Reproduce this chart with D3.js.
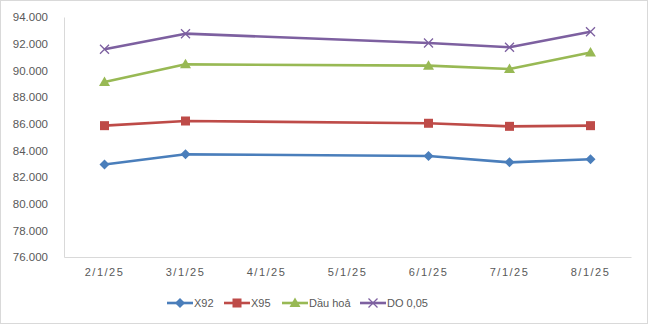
<!DOCTYPE html>
<html>
<head>
<meta charset="utf-8">
<script src="https://cdn.jsdelivr.net/npm/d3@7"></script>
<style>
  html, body { margin: 0; padding: 0; background: #fff; }
  svg { display: block; }
  text { font-family: "Liberation Sans", "DejaVu Sans", sans-serif; fill: #595959; }
</style>
</head>
<body>
<svg id="chart" width="650" height="326"></svg>
<script>
// Day labels on the category axis (every day of the period is shown)
const days = ["2/1/25", "3/1/25", "4/1/25", "5/1/25", "6/1/25", "7/1/25", "8/1/25"];
// Days that actually carry a price
const priceDays = ["2/1/25", "3/1/25", "6/1/25", "7/1/25", "8/1/25"];

// Prices (đồng/lít)
const x92 = [82940, 83700, 83580, 83100, 83330];
const x95 = [85850, 86200, 86030, 85800, 85850];
const dauHoa = [89130, 90450, 90350, 90100, 91330];
const do005 = [91580, 92750, 92050, 91730, 92900];

const yTicks = [76000, 78000, 80000, 82000, 84000, 86000, 88000, 90000, 92000, 94000];

const seriesNames = ["X92", "X95", "Dầu hoả", "DO 0,05"];
const seriesColors = ["#4A7EBB", "#BE4B48", "#98B954", "#7D60A0"];
const seriesMarkers = ["diamond", "square", "triangle", "cross"];
const seriesValues = [x92, x95, dauHoa, do005];

const svg = d3.select("#chart");
const W = 650, H = 326;
const plot = { left: 64, right: 631, top: 17, bottom: 257 };

const vn = d3.formatLocale({ decimal: ",", thousands: ".", grouping: [3], currency: ["", "đ"] });
const fmt = vn.format(",.0f");

// Chart border
svg.append("rect")
  .attr("x", 0.5).attr("y", 0.5).attr("width", W - 3).attr("height", H - 3)
  .attr("fill", "#fff").attr("stroke", "#d9d9d9");

const x = d3.scaleBand().domain(days).range([plot.left, plot.right]);
const y = d3.scaleLinear().domain([76000, 94000]).range([plot.bottom, plot.top]);

// Y axis
const yAxis = svg.append("g")
  .attr("transform", `translate(${plot.left},0)`)
  .call(d3.axisLeft(y).tickValues(yTicks).tickFormat(fmt).tickSize(0).tickPadding(16));
yAxis.select(".domain").attr("stroke", "#d9d9d9");
yAxis.selectAll("text").style("font-size", "11.5px").attr("fill", "#595959");

// X axis
const xAxis = svg.append("g")
  .attr("transform", `translate(0,${plot.bottom})`)
  .call(d3.axisBottom(x).tickSize(0).tickPadding(11));
xAxis.select(".domain").attr("stroke", "#d9d9d9");
xAxis.selectAll("text").style("font-size", "11px").style("letter-spacing", "1.5px").attr("fill", "#595959");

const cx = d => x(d) + x.bandwidth() / 2;

function marker(g, kind, color, px, py) {
  if (kind === "diamond") {
    g.append("path").attr("d", `M${px},${py - 5}L${px + 5},${py}L${px},${py + 5}L${px - 5},${py}Z`)
      .attr("fill", color);
  } else if (kind === "square") {
    g.append("rect").attr("x", px - 4.5).attr("y", py - 4.5).attr("width", 9).attr("height", 9)
      .attr("fill", color);
  } else if (kind === "triangle") {
    g.append("path").attr("d", `M${px},${py - 5.5}L${px + 5.5},${py + 4}L${px - 5.5},${py + 4}Z`)
      .attr("fill", color);
  } else {
    g.append("path").attr("d", `M${px - 4.5},${py - 4.5}L${px + 4.5},${py + 4.5}M${px + 4.5},${py - 4.5}L${px - 4.5},${py + 4.5}`)
      .attr("stroke", color).attr("stroke-width", 1.3).attr("fill", "none");
  }
}

const line = d3.line().x(d => cx(d.day)).y(d => y(d.v));

seriesValues.forEach((vals, i) => {
  const pts = priceDays.map((d, j) => ({ day: d, v: vals[j] }));
  const g = svg.append("g");
  g.append("path").datum(pts).attr("d", line)
    .attr("fill", "none").attr("stroke", seriesColors[i]).attr("stroke-width", 2.6)
    .attr("stroke-linejoin", "round");
  pts.forEach(p => marker(g, seriesMarkers[i], seriesColors[i], cx(p.day), y(p.v)));
});

// Legend
const legendX = [167, 224, 282, 360];
const legendY = 303;
seriesNames.forEach((name, i) => {
  const g = svg.append("g");
  const lx = legendX[i];
  g.append("line").attr("x1", lx).attr("x2", lx + 26).attr("y1", legendY).attr("y2", legendY)
    .attr("stroke", seriesColors[i]).attr("stroke-width", 2.6);
  marker(g, seriesMarkers[i], seriesColors[i], lx + 13, legendY);
  g.append("text").attr("x", lx + 27).attr("y", legendY + 4)
    .style("font-size", "11px").text(name);
});
</script>
</body>
</html>
